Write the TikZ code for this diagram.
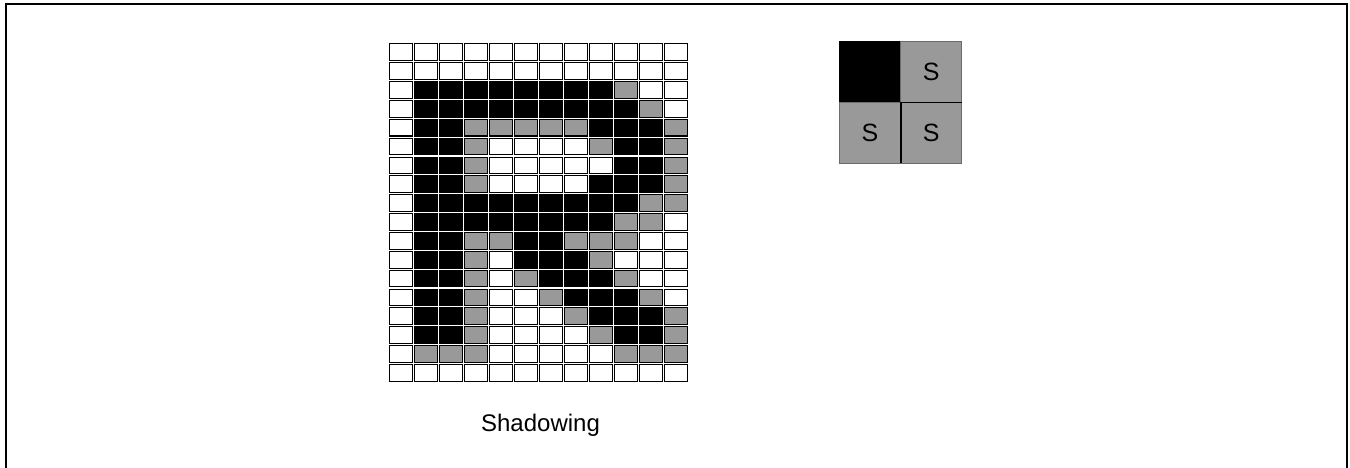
\documentclass[tikz,border=0pt]{standalone}
\usepackage{fontspec}
\setmainfont{Liberation Sans}
\definecolor{cellW}{HTML}{FFFFFF}
\definecolor{cellB}{HTML}{000000}
\definecolor{cellG}{HTML}{999999}
\begin{document}
\begin{tikzpicture}[x=1pt,y=-1pt,
  cell/.style={draw=black,line width=1.1pt},
  sq/.style={draw=cellG!70!black,line width=0.8pt,inner sep=0pt,minimum width=61.2pt,minimum height=60.8pt,font=\fontsize{25}{30}\selectfont},
  frame/.style={line width=2pt}]
\useasboundingbox (0,0) rectangle (1350,467);
\draw[frame] (6,472) -- (6,4) -- (1347,4) -- (1347,472);
\foreach \row [count=\r from 0] in {
 {W,W,W,W,W,W,W,W,W,W,W,W},
 {W,W,W,W,W,W,W,W,W,W,W,W},
 {W,B,B,B,B,B,B,B,B,G,W,W},
 {W,B,B,B,B,B,B,B,B,B,G,W},
 {W,B,B,G,G,G,G,G,B,B,B,G},
 {W,B,B,G,W,W,W,W,G,B,B,G},
 {W,B,B,G,W,W,W,W,W,B,B,G},
 {W,B,B,G,W,W,W,W,B,B,B,G},
 {W,B,B,B,B,B,B,B,B,B,G,G},
 {W,B,B,B,B,B,B,B,B,G,G,W},
 {W,B,B,G,G,B,B,G,G,G,W,W},
 {W,B,B,G,W,B,B,B,G,W,W,W},
 {W,B,B,G,W,G,B,B,B,G,W,W},
 {W,B,B,G,W,W,G,B,B,B,G,W},
 {W,B,B,G,W,W,W,G,B,B,B,G},
 {W,B,B,G,W,W,W,W,G,B,B,G},
 {W,G,G,G,W,W,W,W,W,G,G,G},
 {W,W,W,W,W,W,W,W,W,W,W,W}}
{
  \foreach \v [count=\c from 0] in \row
    \draw[cell,fill=cell\v] ({389.9+25*\c},{43.9+18.86*\r}) rectangle ++(22.8,16.7);
}
\node[anchor=base,font=\fontsize{24}{28}\selectfont] (label) at (540.5,431.7) {Shadowing};
\node[sq,fill=black,draw=black] (s0) at (870,71.7) {};
\node[sq,fill=cellG] (s1) at (931.2,71.7) {S};
\node[sq,fill=cellG] (s2) at (870,132.5) {S};
\node[sq,fill=cellG] (s3) at (931.2,132.5) {S};
\draw[line width=1.6pt] (s1.south west) -- (s1.south east);
\draw[line width=1.6pt] (s2.north east) -- (s2.south east);
\end{tikzpicture}
\end{document}
